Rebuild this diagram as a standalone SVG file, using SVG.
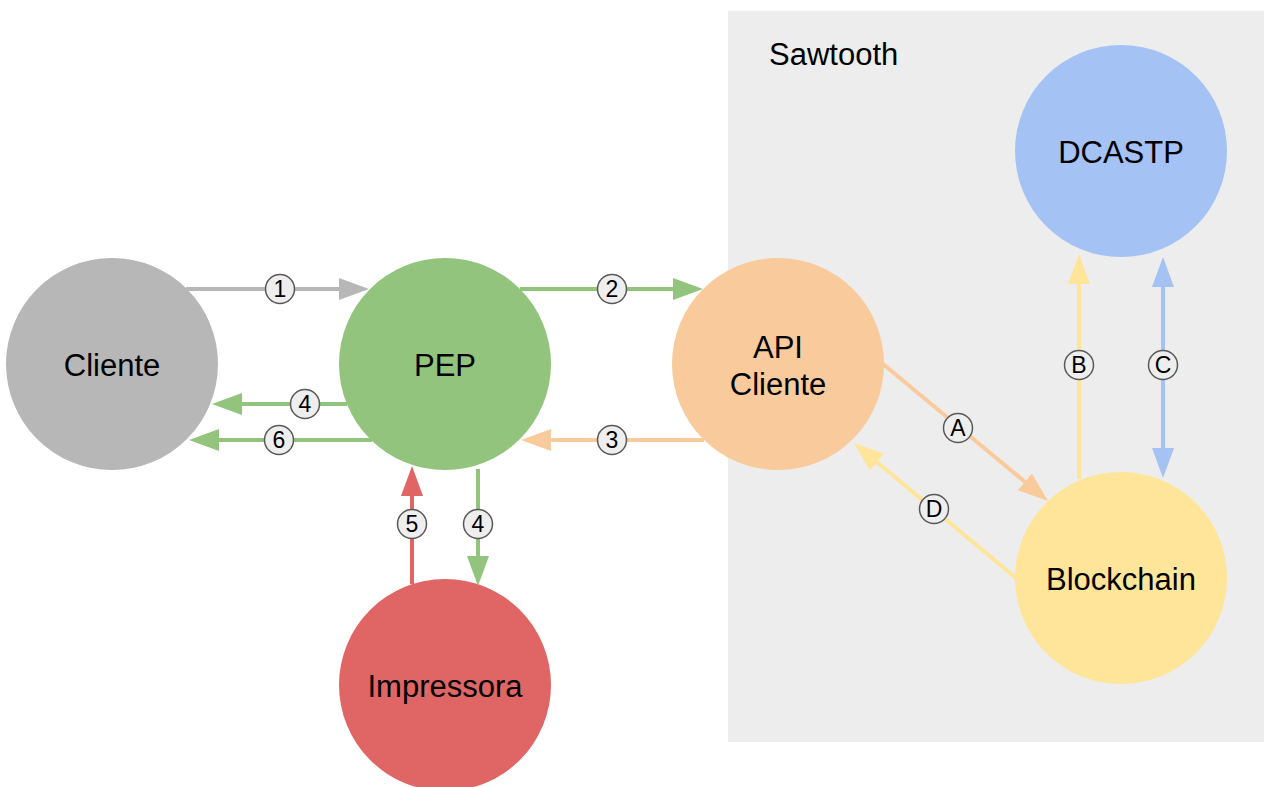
<svg xmlns="http://www.w3.org/2000/svg" width="1264" height="787" viewBox="0 0 1264 787">
  <style>
    .node-label { font-family: "Liberation Sans", Arial, sans-serif; font-size: 31px; fill: #000000; text-anchor: middle; }
    .group-label { font-family: "Liberation Sans", Arial, sans-serif; font-size: 31px; fill: #000000; }
    .edge { fill: none; stroke-width: 4; }
    .badge circle { fill: #eeeeee; stroke: #595959; stroke-width: 1.5; }
    .badge text { font-family: "Liberation Sans", Arial, sans-serif; font-size: 23px; fill: #000000; text-anchor: middle; }
  </style>
  <defs>
    <marker id="head-gray" viewBox="0 0 30 22" refX="0" refY="11" markerWidth="30" markerHeight="22" markerUnits="userSpaceOnUse" orient="auto">
      <path d="M0,0 L30,11 L0,22 Z" fill="#b7b7b7"/>
    </marker>
    <marker id="head-green" viewBox="0 0 30 22" refX="0" refY="11" markerWidth="30" markerHeight="22" markerUnits="userSpaceOnUse" orient="auto">
      <path d="M0,0 L30,11 L0,22 Z" fill="#93c47d"/>
    </marker>
    <marker id="head-orange" viewBox="0 0 30 22" refX="0" refY="11" markerWidth="30" markerHeight="22" markerUnits="userSpaceOnUse" orient="auto">
      <path d="M0,0 L30,11 L0,22 Z" fill="#f9cb9c"/>
    </marker>
    <marker id="head-red" viewBox="0 0 30 22" refX="0" refY="11" markerWidth="30" markerHeight="22" markerUnits="userSpaceOnUse" orient="auto">
      <path d="M0,0 L30,11 L0,22 Z" fill="#e06666"/>
    </marker>
    <marker id="head-yellow" viewBox="0 0 30 22" refX="0" refY="11" markerWidth="30" markerHeight="22" markerUnits="userSpaceOnUse" orient="auto">
      <path d="M0,0 L30,11 L0,22 Z" fill="#ffe599"/>
    </marker>
    <marker id="head-blue" viewBox="0 0 30 22" refX="0" refY="11" markerWidth="30" markerHeight="22" markerUnits="userSpaceOnUse" orient="auto-start-reverse">
      <path d="M0,0 L30,11 L0,22 Z" fill="#a4c2f4"/>
    </marker>
  </defs>

  <rect x="0" y="0" width="1264" height="787" fill="#ffffff"/>

  <!-- Sawtooth container -->
  <g id="sawtooth">
    <rect x="728" y="11" width="536" height="731" fill="#ededed"/>
    <text class="group-label" x="769" y="65">Sawtooth</text>
  </g>

  <!-- Nodes -->
  <g id="cliente">
    <circle cx="112" cy="364" r="106" fill="#b7b7b7"/>
    <text class="node-label" x="112" y="376">Cliente</text>
  </g>
  <g id="pep">
    <circle cx="445" cy="364" r="106" fill="#93c47d"/>
    <text class="node-label" x="445" y="376">PEP</text>
  </g>
  <g id="api-cliente">
    <circle cx="778" cy="364" r="106" fill="#f9cb9c"/>
    <text class="node-label" x="778" y="358">API</text>
    <text class="node-label" x="778" y="395">Cliente</text>
  </g>
  <g id="dcastp">
    <circle cx="1121" cy="151" r="106" fill="#a4c2f4"/>
    <text class="node-label" x="1121" y="163">DCASTP</text>
  </g>
  <g id="blockchain">
    <circle cx="1121" cy="578" r="106" fill="#ffe599"/>
    <text class="node-label" x="1121" y="590">Blockchain</text>
  </g>
  <g id="impressora">
    <circle cx="445" cy="685" r="106" fill="#e06666"/>
    <text class="node-label" x="445" y="697">Impressora</text>
  </g>

  <!-- Connectors -->
  <g id="connectors">
    <path class="edge" stroke="#b7b7b7" d="M186,289 L339,289" marker-end="url(#head-gray)"/>
    <path class="edge" stroke="#93c47d" d="M520,289 L673,289" marker-end="url(#head-green)"/>
    <path class="edge" stroke="#f9cb9c" d="M704,440 L551,440" marker-end="url(#head-orange)"/>
    <path class="edge" stroke="#93c47d" d="M347,404 L242,404" marker-end="url(#head-green)"/>
    <path class="edge" stroke="#93c47d" d="M372,440 L219,440" marker-end="url(#head-green)"/>
    <path class="edge" stroke="#e06666" d="M412,584 L412,496" marker-end="url(#head-red)"/>
    <path class="edge" stroke="#93c47d" d="M478,469 L478,556" marker-end="url(#head-green)"/>
    <path class="edge" stroke="#f9cb9c" d="M883,364 L1024.9,481.8" marker-end="url(#head-orange)"/>
    <path class="edge" stroke="#ffe599" d="M1016,578 L877,462.2" marker-end="url(#head-yellow)"/>
    <path class="edge" stroke="#ffe599" d="M1079,479 L1079,284" marker-end="url(#head-yellow)"/>
    <path class="edge" stroke="#a4c2f4" d="M1163,287 L1163,448" marker-start="url(#head-blue)" marker-end="url(#head-blue)"/>

    <!-- step badges -->
    <g class="badge"><circle cx="280" cy="289" r="14.5"/><text x="280" y="297">1</text></g>
    <g class="badge"><circle cx="612" cy="289" r="14.5"/><text x="612" y="297">2</text></g>
    <g class="badge"><circle cx="612" cy="440" r="14.5"/><text x="612" y="448">3</text></g>
    <g class="badge"><circle cx="305" cy="404" r="14.5"/><text x="305" y="412">4</text></g>
    <g class="badge"><circle cx="279" cy="440" r="14.5"/><text x="279" y="448">6</text></g>
    <g class="badge"><circle cx="412" cy="524" r="14.5"/><text x="412" y="532">5</text></g>
    <g class="badge"><circle cx="478" cy="524" r="14.5"/><text x="478" y="532">4</text></g>
    <g class="badge"><circle cx="958" cy="428" r="14.5"/><text x="958" y="436">A</text></g>
    <g class="badge"><circle cx="1079" cy="365" r="14.5"/><text x="1079" y="373">B</text></g>
    <g class="badge"><circle cx="1163" cy="365" r="14.5"/><text x="1163" y="373">C</text></g>
    <g class="badge"><circle cx="934" cy="509" r="14.5"/><text x="934" y="517">D</text></g>
  </g>
</svg>
